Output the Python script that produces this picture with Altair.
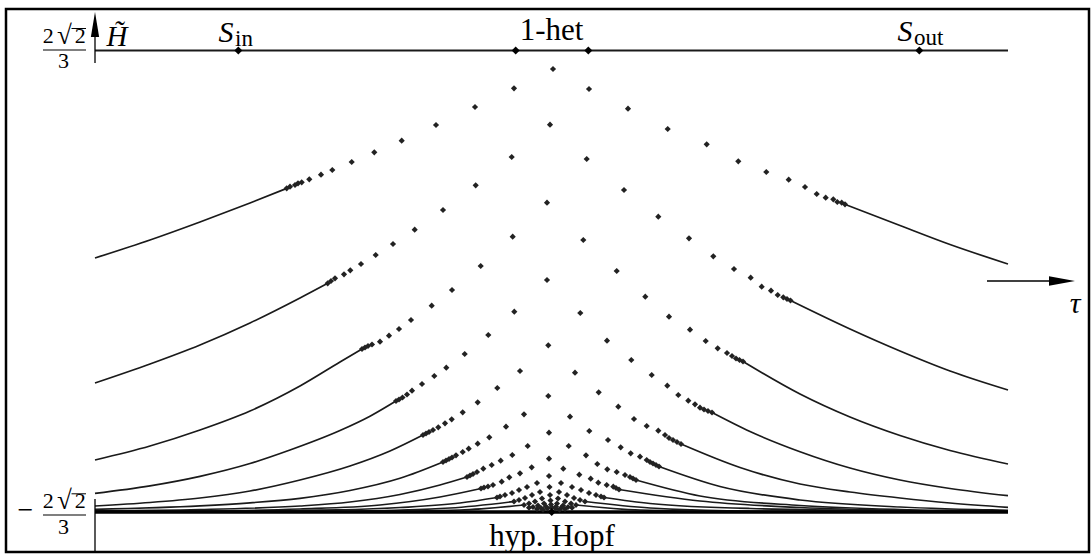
import altair as alt
import pandas as pd

# ---- data (schematic units: tau horizontal, H vertical) ----
H_TOP = 2.31
H_BOT = -2.305
TAU_MIN, TAU_MAX = -4.565, 4.565

C1_LEFT_LINE = [(-4.565, 0.235), (-4.015, 0.415), (-3.515, 0.595), (-3.015, 0.785), (-2.645, 0.932)]
C1_LEFT_DOTS = [(-2.648, 0.932), (-2.615, 0.948), (-2.565, 0.965), (-2.535, 0.982), (-2.498, 0.992), (-2.422, 1.022),
                (-2.305, 1.068), (-2.192, 1.115), (-1.998, 1.195), (-1.772, 1.292), (-1.498, 1.408), (-1.155, 1.565),
                (-0.765, 1.745), (-0.375, 1.932), (0.015, 2.125)]
C1_RIGHT_DOTS = [(0.375, 1.925), (0.765, 1.728), (1.162, 1.525), (1.552, 1.372), (1.868, 1.202), (2.148, 1.095),
                 (2.372, 1.018), (2.535, 0.945), (2.652, 0.875), (2.742, 0.838), (2.818, 0.822), (2.858, 0.795),
                 (2.902, 0.788), (2.935, 0.772)]
C1_RIGHT_LINE = [(2.935, 0.772), (3.485, 0.560), (3.985, 0.370), (4.565, 0.175)]

C2_LEFT_LINE = [(-4.565, -1.015), (-4.015, -0.825), (-3.515, -0.635), (-3.015, -0.415), (-2.515, -0.165), (-2.238, -0.018)]
C2_LEFT_DOTS = [(-2.238, -0.018), (-2.205, 0.005), (-2.165, 0.032), (-2.075, 0.072), (-2.012, 0.112), (-1.905, 0.175),
                (-1.758, 0.265), (-1.585, 0.375), (-1.368, 0.518), (-1.085, 0.715), (-0.758, 0.962), (-0.398, 1.245),
                (-0.015, 1.568)]
C2_RIGHT_DOTS = [(0.352, 1.225), (0.725, 0.915), (1.068, 0.648), (1.375, 0.432), (1.618, 0.252), (1.825, 0.125),
                 (1.992, 0.038), (2.102, -0.052), (2.195, -0.092), (2.262, -0.135), (2.318, -0.158), (2.355, -0.175),
                 (2.39, -0.19)]
C2_RIGHT_LINE = [(2.39, -0.19), (2.985, -0.475), (3.485, -0.695), (3.985, -0.895), (4.565, -1.085)]

C3_LEFT_LINE = [(-4.565, -1.785), (-4.015, -1.645), (-3.515, -1.485), (-3.015, -1.295), (-2.515, -1.045),
                (-2.115, -0.805), (-1.895, -0.675)]
C3_LEFT_DOTS = [(-1.895, -0.675), (-1.865, -0.66), (-1.835, -0.645), (-1.795, -0.63), (-1.715, -0.602), (-1.625, -0.542),
                (-1.525, -0.475), (-1.405, -0.385), (-1.198, -0.242), (-0.995, -0.085), (-0.708, 0.155), (-0.388, 0.448),
                (-0.045, 0.788)]
C3_RIGHT_DOTS = [(0.318, 0.415), (0.652, 0.105), (0.938, -0.152), (1.175, -0.352), (1.385, -0.482), (1.542, -0.595),
                 (1.662, -0.668), (1.755, -0.715), (1.805, -0.745), (1.845, -0.77), (1.88, -0.785), (1.915, -0.8)]
C3_RIGHT_LINE = [(1.915, -0.8), (2.485, -1.125), (2.985, -1.355), (3.485, -1.54), (3.985, -1.69), (4.565, -1.825)]

C4_LEFT_LINE = [(-4.565, -2.118), (-4.015, -2.043), (-3.515, -1.948), (-3.015, -1.82), (-2.615, -1.685),
                (-2.115, -1.49), (-1.815, -1.347), (-1.555, -1.195)]
C4_LEFT_DOTS = [(-1.555, -1.195), (-1.525, -1.18), (-1.49, -1.16), (-1.445, -1.13), (-1.395, -1.092), (-1.295, -1.025),
                (-1.172, -0.945), (-1.052, -0.862), (-0.868, -0.725), (-0.632, -0.535), (-0.372, -0.302), (-0.045, 0.015)]
C4_RIGHT_DOTS = [(0.288, -0.315), (0.555, -0.592), (0.798, -0.785), (1.002, -0.935), (1.158, -1.042), (1.268, -1.135),
                 (1.368, -1.192), (1.435, -1.228), (1.485, -1.262), (1.525, -1.28), (1.565, -1.295), (1.605, -1.31)]
C4_RIGHT_LINE = [(1.605, -1.31), (1.985, -1.5), (2.485, -1.702), (2.985, -1.865), (3.485, -1.985), (3.985, -2.07),
                 (4.565, -2.142)]

C5_LEFT_LINE = [(-4.565, -2.245), (-4.015, -2.21), (-3.515, -2.165), (-3.015, -2.095), (-2.515, -1.985),
                (-2.015, -1.845), (-1.615, -1.695), (-1.285, -1.535)]
C5_LEFT_DOTS = [(-1.285, -1.535), (-1.255, -1.52), (-1.225, -1.505), (-1.185, -1.485), (-1.132, -1.458), (-1.065, -1.418),
                (-0.998, -1.378), (-0.888, -1.308), (-0.738, -1.208), (-0.542, -1.065), (-0.315, -0.895), (-0.032, -0.638)]
C5_RIGHT_DOTS = [(0.235, -0.912), (0.472, -1.108), (0.668, -1.252), (0.825, -1.375), (0.952, -1.445), (1.068, -1.492),
                 (1.135, -1.535), (1.175, -1.565), (1.215, -1.585), (1.255, -1.605), (1.295, -1.625)]
C5_RIGHT_LINE = [(1.295, -1.625), (1.885, -1.86), (2.485, -2.025), (2.985, -2.105), (3.485, -2.165), (3.985, -2.215),
                 (4.565, -2.258)]

C6_LEFT_LINE = [(-4.565, -2.278), (-3.515, -2.243), (-3.015, -2.213), (-2.515, -2.168), (-2.015, -2.09),
                (-1.515, -1.968), (-1.085, -1.805)]
C6_LEFT_DOTS = [(-1.085, -1.805), (-1.055, -1.79), (-1.025, -1.775), (-0.995, -1.76), (-0.955, -1.738), (-0.888, -1.705),
                (-0.828, -1.672), (-0.738, -1.622), (-0.622, -1.558), (-0.455, -1.452), (-0.275, -1.328), (-0.032, -1.145)]
C6_RIGHT_DOTS = [(0.185, -1.352), (0.378, -1.495), (0.565, -1.585), (0.692, -1.658), (0.792, -1.718), (0.885, -1.752),
                 (0.952, -1.785), (0.985, -1.805), (1.015, -1.82), (1.045, -1.835), (1.075, -1.85)]
C6_RIGHT_LINE = [(1.075, -1.85), (1.685, -2.05), (2.485, -2.185), (3.485, -2.255), (4.565, -2.288)]

C7_LEFT_LINE = [(-4.565, -2.292), (-3.515, -2.28), (-2.515, -2.245), (-2.015, -2.205), (-1.515, -2.13),
                (-1.115, -2.035), (-0.845, -1.955)]
C7_LEFT_DOTS = [(-0.845, -1.955), (-0.815, -1.94), (-0.785, -1.925), (-0.745, -1.905), (-0.682, -1.872), (-0.598, -1.835),
                (-0.508, -1.792), (-0.392, -1.735), (-0.238, -1.645), (-0.025, -1.512)]
C7_RIGHT_DOTS = [(0.172, -1.645), (0.345, -1.738), (0.458, -1.825), (0.558, -1.878), (0.652, -1.905), (0.735, -1.935),
                 (0.785, -1.955), (0.815, -1.97), (0.845, -1.985)]
C7_RIGHT_LINE = [(0.845, -1.985), (1.485, -2.145), (2.485, -2.24), (3.485, -2.28), (4.565, -2.295)]

C8_LEFT_LINE = [(-4.565, -2.299), (-3.515, -2.295), (-2.515, -2.275), (-1.715, -2.235), (-1.115, -2.155), (-0.705, -2.07)]
C8_LEFT_DOTS = [(-0.705, -2.07), (-0.675, -2.06), (-0.635, -2.05), (-0.585, -2.035), (-0.498, -2.002), (-0.422, -1.958),
                (-0.315, -1.918), (-0.198, -1.858), (-0.025, -1.772)]
C8_RIGHT_DOTS = [(0.118, -1.872), (0.278, -1.932), (0.392, -1.972), (0.468, -2.012), (0.552, -2.035), (0.618, -2.052),
                 (0.645, -2.065), (0.675, -2.08)]
C8_RIGHT_LINE = [(0.675, -2.08), (1.485, -2.195), (2.485, -2.26), (3.485, -2.29), (4.565, -2.301)]

C9_LEFT_LINE = [(-4.565, -2.302), (-2.515, -2.29), (-1.515, -2.26), (-0.915, -2.215), (-0.545, -2.16)]
C9_LEFT_DOTS = [(-0.545, -2.16), (-0.515, -2.15), (-0.465, -2.135), (-0.395, -2.115), (-0.325, -2.085), (-0.245, -2.055),
                (-0.145, -2.015), (-0.025, -1.945)]
C9_RIGHT_DOTS = [(0.095, -2.015), (0.205, -2.055), (0.295, -2.085), (0.375, -2.115), (0.445, -2.135), (0.495, -2.15),
                 (0.525, -2.16)]
C9_RIGHT_LINE = [(0.525, -2.16), (0.985, -2.22), (1.985, -2.27), (4.565, -2.303)]

C10_LEFT_LINE = [(-4.565, -2.304), (-2.015, -2.295), (-1.015, -2.265), (-0.375, -2.2)]
C10_LEFT_DOTS = [(-0.375, -2.2), (-0.325, -2.185), (-0.265, -2.165), (-0.195, -2.135), (-0.115, -2.105), (-0.02, -2.055)]
C10_RIGHT_DOTS = [(0.075, -2.105), (0.155, -2.135), (0.225, -2.165), (0.285, -2.185), (0.335, -2.2)]
C10_RIGHT_LINE = [(0.335, -2.2), (0.985, -2.265), (1.985, -2.295), (4.565, -2.304)]

C11_LEFT_LINE = [(-2.015, -2.3), (-0.915, -2.285), (-0.275, -2.235)]
C11_LEFT_DOTS = [(-0.275, -2.235), (-0.225, -2.22), (-0.165, -2.2), (-0.095, -2.17), (-0.015, -2.135)]
C11_RIGHT_DOTS = [(0.065, -2.17), (0.135, -2.2), (0.195, -2.22), (0.245, -2.235)]
C11_RIGHT_LINE = [(0.245, -2.235), (0.885, -2.285), (1.985, -2.3)]

C12_DOTS = [(-0.225, -2.262), (-0.185, -2.255), (-0.135, -2.24), (-0.075, -2.22), (-0.01, -2.19), (0.055, -2.22),
            (0.115, -2.24), (0.165, -2.255), (0.205, -2.262)]
C13_DOTS = [(-0.145, -2.275), (-0.105, -2.265), (-0.055, -2.25), (-0.005, -2.23), (0.045, -2.25), (0.095, -2.265),
            (0.135, -2.275)]
C14_DOTS = [(-0.085, -2.282), (-0.04, -2.27), (0.0, -2.258), (0.04, -2.27), (0.08, -2.282)]

TOP_POINTS = [(-3.132, H_TOP), (-0.358, H_TOP), (0.368, H_TOP), (3.678, H_TOP)]
HOPF_POINT = [(0.002, H_BOT)]

LINE_SEGMENTS = [
    ("c1l", C1_LEFT_LINE), ("c1r", C1_RIGHT_LINE), ("c2l", C2_LEFT_LINE), ("c2r", C2_RIGHT_LINE),
    ("c3l", C3_LEFT_LINE), ("c3r", C3_RIGHT_LINE), ("c4l", C4_LEFT_LINE), ("c4r", C4_RIGHT_LINE),
    ("c5l", C5_LEFT_LINE), ("c5r", C5_RIGHT_LINE), ("c6l", C6_LEFT_LINE), ("c6r", C6_RIGHT_LINE),
    ("c7l", C7_LEFT_LINE), ("c7r", C7_RIGHT_LINE), ("c8l", C8_LEFT_LINE), ("c8r", C8_RIGHT_LINE),
    ("c9l", C9_LEFT_LINE), ("c9r", C9_RIGHT_LINE), ("c10l", C10_LEFT_LINE), ("c10r", C10_RIGHT_LINE),
    ("c11l", C11_LEFT_LINE), ("c11r", C11_RIGHT_LINE),
]
DOT_SETS = [C1_LEFT_DOTS, C1_RIGHT_DOTS, C2_LEFT_DOTS, C2_RIGHT_DOTS, C3_LEFT_DOTS, C3_RIGHT_DOTS,
            C4_LEFT_DOTS, C4_RIGHT_DOTS, C5_LEFT_DOTS, C5_RIGHT_DOTS, C6_LEFT_DOTS, C6_RIGHT_DOTS,
            C7_LEFT_DOTS, C7_RIGHT_DOTS, C8_LEFT_DOTS, C8_RIGHT_DOTS, C9_LEFT_DOTS, C9_RIGHT_DOTS,
            C10_LEFT_DOTS, C10_RIGHT_DOTS, C11_LEFT_DOTS, C11_RIGHT_DOTS, C12_DOTS, C13_DOTS, C14_DOTS]

# labels: (text, tau, H, fontsize)
UPRIGHT_LABELS = [("1-het", 0.0, 2.415, 31), ("hyp. Hopf", 0.005, -2.645, 31),
                  # fraction 2*sqrt(2)/3 at the top
                  ("2", -5.032, 2.385, 22), ("\u221a", -4.87, 2.38, 27), ("2", -4.712, 2.385, 22),
                  ("3", -4.88, 2.135, 22),
                  # fraction -2*sqrt(2)/3 at the bottom
                  ("\u2212", -5.26, -2.375, 28),
                  ("2", -5.032, -2.268, 22), ("\u221a", -4.87, -2.273, 27), ("2", -4.712, -2.268, 22),
                  ("3", -4.88, -2.522, 22)]
ITALIC_LABELS = [("S", -3.255, 2.395, 30), ("S", 3.535, 2.405, 30), ("H\u0303", -4.345, 2.355, 29),
                 ("\u03c4", 5.235, -0.315, 30)]
SUB_LABELS = [("in", -3.165, 2.355, 23), ("out", 3.625, 2.365, 23)]
# short rules: (tau, tau2, H, width) -- fraction bars and radical overbars
SMALL_RULES = [(-5.085, -4.655, 2.315, 1.1), (-5.085, -4.655, -2.335, 1.1),
               (-4.8, -4.655, 2.53, 1.0), (-4.8, -4.655, -2.123, 1.0)]
AXIS_V = [(-4.565, 2.6, 2.185), (-4.565, -2.175, -2.705)]
AXIS_H = [(4.355, 5.0, 0.005)]
ARROW_UP = [(-4.565, 2.57)]
ARROW_RIGHT = [(5.105, 0.005)]

# ---- frames ----
rows = []
for name, pts in LINE_SEGMENTS:
    for i, (t, h) in enumerate(pts):
        rows.append({"seg": name, "i": i, "tau": t, "H": h})
line_df = pd.DataFrame(rows)
dot_df = pd.DataFrame([{"tau": t, "H": h} for s in DOT_SETS for (t, h) in s])
top_df = pd.DataFrame([{"tau": t, "H": h} for (t, h) in TOP_POINTS + HOPF_POINT])

def tdf(lst):
    return pd.DataFrame([{"label": a, "tau": b, "H": c, "fs": d} for (a, b, c, d) in lst])

XS = alt.Scale(domain=[-5.455, 5.375], nice=False, zero=False)
YS = alt.Scale(domain=[-2.705, 2.725], nice=False, zero=False)
def X(f="tau"):
    return alt.X(f + ":Q", scale=XS, axis=None)
def Y(f="H"):
    return alt.Y(f + ":Q", scale=YS, axis=None)

INK = "#1a1a1a"

lines = alt.Chart(line_df).mark_line(color=INK, strokeWidth=1.7, interpolate="monotone").encode(
    x=X(), y=Y(), detail="seg:N", order="i:Q")

top_line = alt.Chart(pd.DataFrame([{"tau": TAU_MIN, "tau2": TAU_MAX, "H": H_TOP}])).mark_rule(
    color=INK, strokeWidth=2.2).encode(x=X(), x2="tau2:Q", y=Y())
bot_line = alt.Chart(pd.DataFrame([{"tau": TAU_MIN, "tau2": TAU_MAX, "H": H_BOT}])).mark_rule(
    color="black", strokeWidth=3.5).encode(x=X(), x2="tau2:Q", y=Y())

dots = alt.Chart(dot_df).mark_point(shape="diamond", filled=True, size=38, color="#222222", opacity=1).encode(
    x=X(), y=Y())
big_dots = alt.Chart(top_df).mark_point(shape="diamond", filled=True, size=64, color="black", opacity=1).encode(
    x=X(), y=Y())

axv = alt.Chart(pd.DataFrame([{"tau": a, "H": b, "H2": c} for (a, b, c) in AXIS_V])).mark_rule(
    color="black", strokeWidth=1.3).encode(x=X(), y=Y(), y2="H2:Q")
axh = alt.Chart(pd.DataFrame([{"tau": a, "tau2": b, "H": c} for (a, b, c) in AXIS_H])).mark_rule(
    color="black", strokeWidth=1.3).encode(x=X(), x2="tau2:Q", y=Y())
small_rules = alt.Chart(pd.DataFrame([{"tau": a, "tau2": b, "H": c, "w": d} for (a, b, c, d) in SMALL_RULES])).mark_rule(
    color="black").encode(x=X(), x2="tau2:Q", y=Y(), strokeWidth=alt.StrokeWidth("w:Q", scale=None))

arrow_up = alt.Chart(pd.DataFrame([{"tau": a, "H": b} for (a, b) in ARROW_UP])).mark_point(
    shape="M0,-1L0.33,1L-0.33,1Z", filled=True, size=625, color="black", opacity=1, strokeWidth=0).encode(
    x=X(), y=Y())
arrow_right = alt.Chart(pd.DataFrame([{"tau": a, "H": b} for (a, b) in ARROW_RIGHT])).mark_point(
    shape="M1,0L-1,-0.36L-1,0.36Z", filled=True, size=676, color="black", opacity=1, strokeWidth=0).encode(
    x=X(), y=Y())

FONT = "Liberation Serif"
SIZE = alt.Size("fs:Q", scale=None)
up_txt = alt.Chart(tdf(UPRIGHT_LABELS)).mark_text(font=FONT, align="center", baseline="alphabetic",
                                                  color="black").encode(x=X(), y=Y(), text="label:N", size=SIZE)
ital_txt = alt.Chart(tdf(ITALIC_LABELS)).mark_text(font=FONT, fontStyle="italic", align="center",
                                                   baseline="alphabetic", color="black").encode(
    x=X(), y=Y(), text="label:N", size=SIZE)
sub_txt = alt.Chart(tdf(SUB_LABELS)).mark_text(font=FONT, align="left", baseline="alphabetic",
                                               color="black").encode(x=X(), y=Y(), text="label:N", size=SIZE)

chart = alt.layer(
    lines, top_line, bot_line, dots, big_dots, axv, axh, small_rules, arrow_up, arrow_right,
    up_txt, ital_txt, sub_txt
).properties(
    width=1083, height=543,
    padding={"left": 6, "top": 9, "right": 2, "bottom": 2},
    autosize=alt.AutoSizeParams(type="none"),
    background="white",
).configure_view(stroke="black", strokeWidth=2.5)

chart.save("out.html", embed_options={"renderer": "svg", "actions": False})
